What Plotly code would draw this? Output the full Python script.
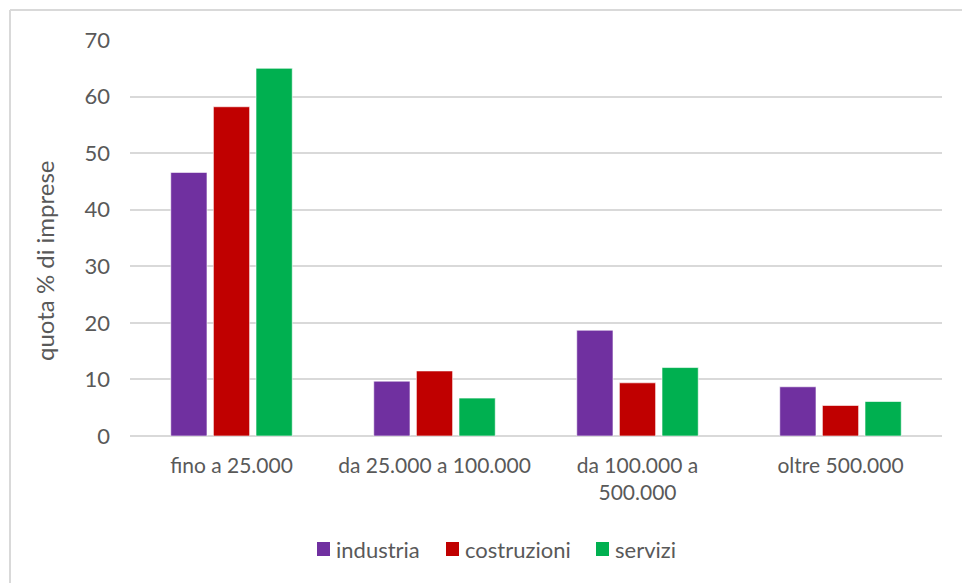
import plotly.graph_objects as go

categories = ["fino a 25.000", "da 25.000 a 100.000", "da 100.000 a<br>500.000", "oltre 500.000"]
industria = [46.6, 9.7, 18.7, 8.7]
costruzioni = [58.2, 11.5, 9.4, 5.4]
servizi = [65.0, 6.7, 12.1, 6.1]
series_names = ["industria", "costruzioni", "servizi"]
series_colors = ["#7030A0", "#C00000", "#00B050"]
y_ticks = [0, 10, 20, 30, 40, 50, 60, 70]

W, H = 962, 583
ML, MR, MT, MB = 130, 20, 40, 147
PW, PH = W - ML - MR, H - MT - MB

def px_x(p):
    return (p - ML) / PW

def px_y(p):
    return (H - MB - p) / PH

FONT = "Lato"
GREY = "#595959"
FS = 21

fig = go.Figure()
for name, vals, col in zip(series_names, [industria, costruzioni, servizi], series_colors):
    fig.add_trace(go.Bar(
        x=categories, y=vals, name=name, showlegend=False,
        marker=dict(color=col, line=dict(color="rgba(255,255,255,0.6)", width=1)),
    ))

# custom legend (square + label), positions in pixels
legend_sq_x = [317, 446, 596]
annotations = [dict(text="quota % di imprese", x=px_x(44), y=px_y(261), xref="paper", yref="paper",
                    textangle=-90, showarrow=False, font=dict(family=FONT, size=24, color=GREY),
                    xanchor="center", yanchor="middle")]
shapes = [
    dict(type="line", xref="paper", yref="paper", x0=px_x(10), x1=px_x(970), y0=px_y(10), y1=px_y(10),
         line=dict(color="#D9D9D9", width=2)),
    dict(type="line", xref="paper", yref="paper", x0=px_x(10), x1=px_x(10), y0=px_y(10), y1=px_y(590),
         line=dict(color="#D9D9D9", width=2)),
]
for name, col, sx in zip(series_names, series_colors, legend_sq_x):
    shapes.append(dict(type="rect", xref="paper", yref="paper", x0=px_x(sx), x1=px_x(sx + 13),
                       y0=px_y(542), y1=px_y(556), fillcolor=col, line=dict(width=0)))
    annotations.append(dict(text=name, x=px_x(sx + 17), y=px_y(549), xref="paper", yref="paper",
                            showarrow=False, xanchor="left", yanchor="middle",
                            font=dict(family=FONT, size=22, color=GREY)))

fig.update_layout(
    width=W, height=H,
    margin=dict(l=ML, r=MR, t=MT, b=MB),
    paper_bgcolor="white", plot_bgcolor="white",
    barmode="group", bargap=0.37, bargroupgap=0.15,
    font=dict(family=FONT, size=FS, color=GREY),
    showlegend=False,
    xaxis=dict(showgrid=False, showline=False, ticks="", tickfont=dict(size=FS, color=GREY),
               ticklabelstandoff=15),
    yaxis=dict(range=[0, 70], tickvals=y_ticks, showgrid=True, gridcolor="#D9D9D9", gridwidth=1.5,
               zeroline=True, zerolinecolor="#D9D9D9", zerolinewidth=1.5, showline=False, ticks="",
               tickfont=dict(size=22, color=GREY), ticklabelstandoff=19),
    annotations=annotations,
    shapes=shapes,
)

fig.write_html("out.html")
